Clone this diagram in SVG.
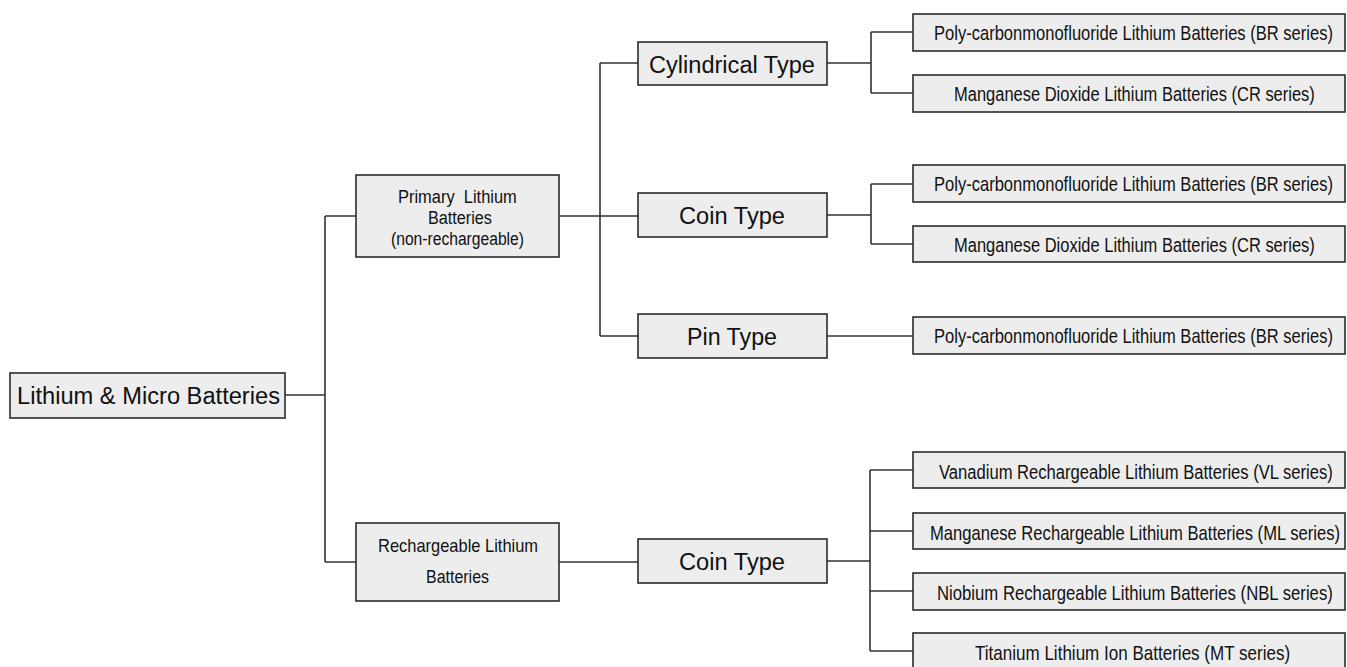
<svg xmlns="http://www.w3.org/2000/svg" width="1347" height="667" viewBox="0 0 1347 667">
<style>
.box{fill:#ededed;stroke:#2b2b2b;stroke-width:1.6}
.ln{fill:none;stroke:#333;stroke-width:1.6}
text{font-family:"Liberation Sans",Arial,sans-serif;fill:#111}
.big{font-size:23.5px}
.mid{font-size:19px}
.leaf{font-size:20px}
</style>
<rect width="1347" height="667" fill="#fff"/>
<g id="connectors" class="ln">
<path d="M285 395H325M325 216V562M325 216H356M325 562H356"/>
<path d="M559 216H638M600 63V336M600 63H638M600 336H638"/>
<path d="M827 63H871M871 32V93M871 32H913M871 93H913"/>
<path d="M827 215H871M871 184V244M871 184H913M871 244H913"/>
<path d="M827 336H913"/>
<path d="M559 562H638"/>
<path d="M827 561H870M870 470V651M870 470H913M870 531H913M870 591H913M870 651H913"/>
</g>
<g id="root"><rect class="box" x="10" y="373" width="275" height="45"/><text class="big" x="17" y="404" textLength="263" lengthAdjust="spacingAndGlyphs">Lithium &amp; Micro Batteries</text></g>
<g id="primary"><rect class="box" x="356" y="175" width="203" height="82"/>
<text class="mid" transform="translate(398 203) scale(0.867 1)" textLength="137" lengthAdjust="spacingAndGlyphs" xml:space="preserve">Primary  Lithium</text>
<text class="mid" transform="translate(428 224) scale(0.853 1)" textLength="75" lengthAdjust="spacingAndGlyphs">Batteries</text>
<text class="mid" transform="translate(391 245) scale(0.823 1)" textLength="161.6" lengthAdjust="spacingAndGlyphs">(non-rechargeable)</text></g>
<g id="rechargeable"><rect class="box" x="356" y="523" width="203" height="78"/>
<text class="mid" transform="translate(378 552) scale(0.866 1)" textLength="184.8" lengthAdjust="spacingAndGlyphs">Rechargeable Lithium</text>
<text class="mid" transform="translate(426 583) scale(0.84 1)" textLength="75" lengthAdjust="spacingAndGlyphs">Batteries</text></g>
<g id="cylindrical"><rect class="box" x="638" y="42" width="189" height="43"/><text class="big" x="649" y="73" textLength="166" lengthAdjust="spacingAndGlyphs">Cylindrical Type</text></g>
<g id="coin1"><rect class="box" x="638" y="193" width="189" height="44"/><text class="big" x="679" y="224" textLength="106" lengthAdjust="spacingAndGlyphs">Coin Type</text></g>
<g id="pin"><rect class="box" x="638" y="314" width="189" height="44"/><text class="big" x="687" y="345" textLength="90" lengthAdjust="spacingAndGlyphs">Pin Type</text></g>
<g id="coin2"><rect class="box" x="638" y="539" width="189" height="44"/><text class="big" x="679" y="570" textLength="106" lengthAdjust="spacingAndGlyphs">Coin Type</text></g>
<g id="leaf1"><rect class="box" x="913" y="14" width="432" height="37"/><text class="leaf" transform="translate(934 40) scale(0.827 1)" textLength="482.4" lengthAdjust="spacingAndGlyphs">Poly-carbonmonofluoride Lithium Batteries (BR series)</text></g>
<g id="leaf2"><rect class="box" x="913" y="75" width="432" height="37"/><text class="leaf" transform="translate(954 101) scale(0.824 1)" textLength="437.9" lengthAdjust="spacingAndGlyphs">Manganese Dioxide Lithium Batteries (CR series)</text></g>
<g id="leaf3"><rect class="box" x="913" y="165" width="432" height="37"/><text class="leaf" transform="translate(934 191) scale(0.827 1)" textLength="482.4" lengthAdjust="spacingAndGlyphs">Poly-carbonmonofluoride Lithium Batteries (BR series)</text></g>
<g id="leaf4"><rect class="box" x="913" y="226" width="432" height="36"/><text class="leaf" transform="translate(954 252) scale(0.824 1)" textLength="437.9" lengthAdjust="spacingAndGlyphs">Manganese Dioxide Lithium Batteries (CR series)</text></g>
<g id="leaf5"><rect class="box" x="913" y="317" width="432" height="37"/><text class="leaf" transform="translate(934 343) scale(0.827 1)" textLength="482.4" lengthAdjust="spacingAndGlyphs">Poly-carbonmonofluoride Lithium Batteries (BR series)</text></g>
<g id="leaf6"><rect class="box" x="913" y="452" width="432" height="36"/><text class="leaf" transform="translate(939 479) scale(0.826 1)" textLength="476.8" lengthAdjust="spacingAndGlyphs">Vanadium Rechargeable Lithium Batteries (VL series)</text></g>
<g id="leaf7"><rect class="box" x="913" y="513" width="432" height="36"/><text class="leaf" transform="translate(930 540) scale(0.829 1)" textLength="494.6" lengthAdjust="spacingAndGlyphs">Manganese Rechargeable Lithium Batteries (ML series)</text></g>
<g id="leaf8"><rect class="box" x="913" y="573" width="432" height="37"/><text class="leaf" transform="translate(937 600) scale(0.834 1)" textLength="474.6" lengthAdjust="spacingAndGlyphs">Niobium Rechargeable Lithium Batteries (NBL series)</text></g>
<g id="leaf9"><rect class="box" x="913" y="633" width="432" height="36"/><text class="leaf" transform="translate(975 660) scale(0.849 1)" textLength="371.2" lengthAdjust="spacingAndGlyphs">Titanium Lithium Ion Batteries (MT series)</text></g>
</svg>
